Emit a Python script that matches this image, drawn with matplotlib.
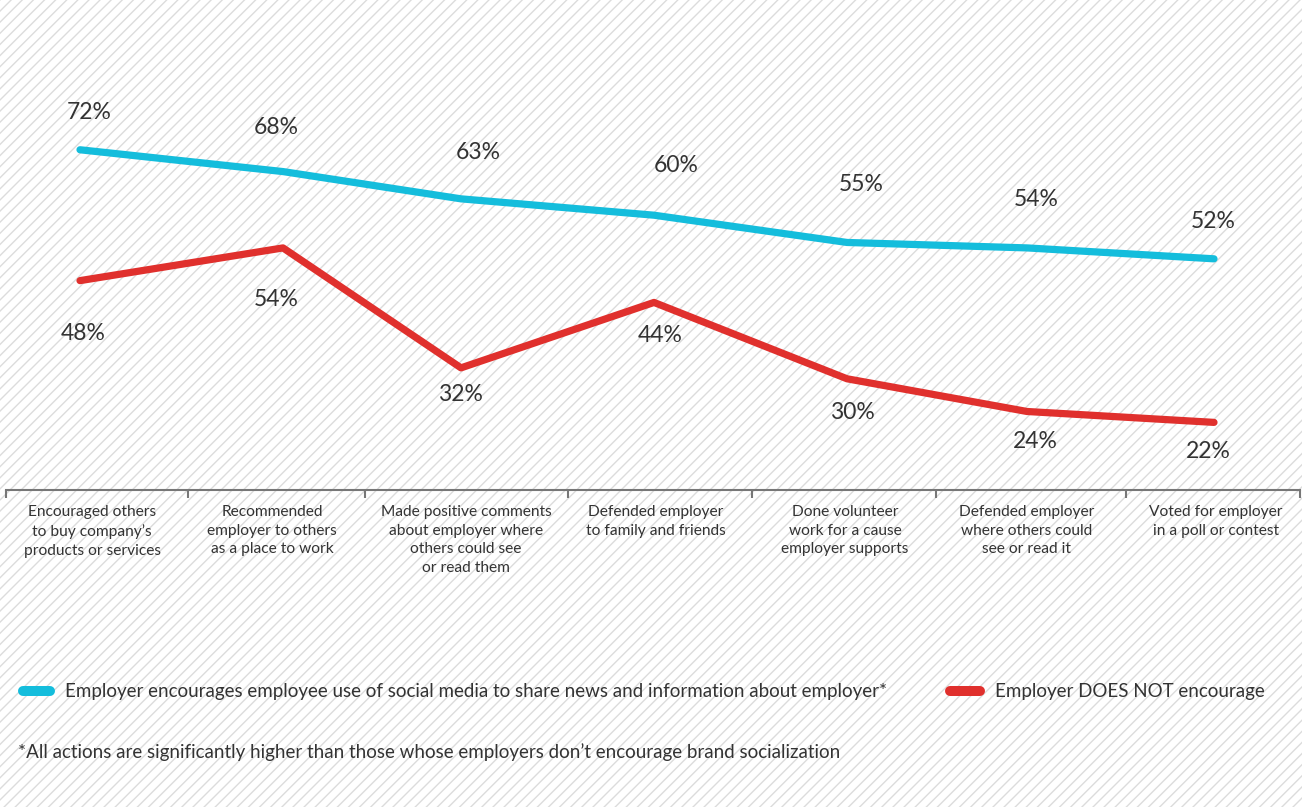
import matplotlib.pyplot as plt
import numpy as np
from matplotlib.patches import Rectangle
from matplotlib.lines import Line2D

W, H = 1302, 807

# data
categories = [
    "Encouraged others\nto buy company\u2019s\nproducts or services",
    "Recommended\nemployer to others\nas a place to work",
    "Made positive comments\nabout employer where\nothers could see\nor read them",
    "Defended employer\nto family and friends",
    "Done volunteer\nwork for a cause\nemployer supports",
    "Defended employer\nwhere others could\nsee or read it",
    "Voted for employer\nin a poll or contest",
]
encourage = [72, 68, 63, 60, 55, 54, 52]
not_encourage = [48, 54, 32, 44, 30, 24, 22]
series_names = [
    "Employer encourages employee use of social media to share news and information about employer*",
    "Employer DOES NOT encourage",
]
footnote = "*All actions are significantly higher than those whose employers don\u2019t encourage brand socialization"

# layout (pixel units of the 1302 wide canvas)
xpos = [80, 283, 461, 654, 847, 1027, 1214]
label_x = [92, 272, 466, 656, 845, 1027, 1216]
boundaries = [6, 188, 365, 568, 752, 936, 1126, 1300]
blue_off = [(9, 37), (-7, 44), (17, 46), (22, 50), (14, 58), (9, 48), (-1, 37)]
red_off = [(3, -53), (-7, -52), (-1, -27), (6, -33), (5, -34), (8, -30), (-6, -29)]

BLUE = "#14bddc"
RED = "#e0302d"
TXT = "#333333"

plt.rcParams['font.family'] = ['Lato', 'DejaVu Sans']

fig = plt.figure(figsize=(W / 100, H / 100), dpi=100)
bg = Rectangle((0, 0), 1, 1, transform=fig.transFigure, facecolor='white',
               edgecolor='#dcdcdc', hatch='///', linewidth=0, zorder=-10)
fig.add_artist(bg)

ax_bottom, ax_top = 490, 20
ax = fig.add_axes([0, 1 - ax_bottom / H, 1, (ax_bottom - ax_top) / H])
ax.set_facecolor('none')
ax.set_xlim(0, W)
ax.set_ylim(9.6, 95.8)

ax.plot(xpos, encourage, color=BLUE, lw=5.2, solid_capstyle='round', solid_joinstyle='round')
ax.plot(xpos, not_encourage, color=RED, lw=5.2, solid_capstyle='round', solid_joinstyle='round')

px = 0.72  # pixels -> points
for x, v, (dx, dy) in zip(xpos, encourage, blue_off):
    ax.annotate(f"{v}%", (x, v), xytext=(dx * px, dy * px), textcoords='offset points',
                ha='center', va='center', fontsize=16.5, color=TXT)
for x, v, (dx, dy) in zip(xpos, not_encourage, red_off):
    ax.annotate(f"{v}%", (x, v), xytext=(dx * px, dy * px), textcoords='offset points',
                ha='center', va='center', fontsize=16.5, color=TXT)

for s in ['top', 'left', 'right']:
    ax.spines[s].set_visible(False)
ax.spines['bottom'].set_color('#777777')
ax.spines['bottom'].set_linewidth(1.5)
ax.spines['bottom'].set_bounds(boundaries[0], boundaries[-1])
ax.set_xticks(boundaries)
ax.set_xticklabels([])
ax.tick_params(axis='x', direction='out', length=6, width=1.5, color='#777777')
ax.set_yticks([])

for x, lab in zip(label_x, categories):
    fig.text(x / W, 1 - 505 / H, lab, ha='center', va='top', fontsize=11.2,
             color=TXT, linespacing=1.42)

# legend
ly = 1 - 691 / H
fig.add_artist(Line2D([23 / W, 50 / W], [ly, ly], color=BLUE, lw=7.2, solid_capstyle='round'))
fig.text(65 / W, ly, series_names[0], ha='left', va='center', fontsize=13.5, color=TXT)
fig.add_artist(Line2D([950 / W, 980 / W], [ly, ly], color=RED, lw=7.2, solid_capstyle='round'))
fig.text(995 / W, ly, series_names[1], ha='left', va='center', fontsize=13.5, color=TXT)

fig.text(18 / W, 1 - 752 / H, footnote, ha='left', va='center', fontsize=13.5, color=TXT)

fig.savefig('out.png', dpi=100)
